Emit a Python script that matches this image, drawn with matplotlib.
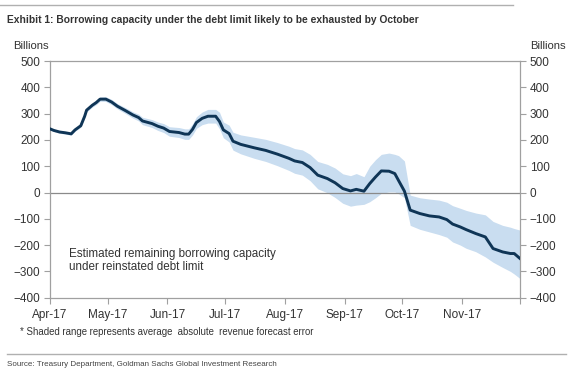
import matplotlib
matplotlib.use("Agg")
import matplotlib.pyplot as plt
import numpy as np
import pandas as pd

# ---- data ----
day_offsets = [0, 2, 5, 8, 11, 13, 16, 18, 19, 22, 24, 26, 29, 32, 35, 39, 43, 46, 48,
               53, 56, 59, 62, 67, 70, 72, 74, 76, 79, 82, 86, 88, 90, 93, 95, 99, 106,
               112, 118, 124, 127, 131, 135, 139, 144, 148, 152, 156, 159, 163, 166, 169,
               172, 176, 179, 181, 184, 187, 192, 197, 202, 206, 209, 213, 216, 221, 226,
               230, 235, 239, 241, 244]
capacity = [242, 236, 230, 227, 223, 238, 254, 290, 313, 332, 342, 355, 355, 344, 328, 312,
            295, 285, 272, 262, 252, 245, 232, 228, 222, 222, 240, 266, 282, 290, 290, 270,
            238, 224, 195, 183, 170, 160, 146, 130, 120, 114, 95, 66, 53, 37, 15, 6, 12, 5,
            34, 59, 82, 81, 72, 45, 5, -67, -80, -89, -93, -103, -120, -131, -141, -156,
            -169, -213, -226, -232, -232, -251]
band_upper = [246, 240, 235, 232, 228, 243, 260, 296, 320, 339, 350, 363, 364, 354, 338, 323,
              307, 298, 286, 277, 268, 262, 250, 247, 242, 242, 261, 288, 306, 316, 316, 305,
              268, 256, 229, 219, 210, 202, 190, 176, 167, 162, 145, 118, 107, 93, 71, 64, 72, 60,
              100, 125, 145, 150, 145, 140, 120, -10, -20, -25, -29, -37, -50, -60, -68, -78,
              -85, -110, -125, -132, -137, -143]
band_lower = [238, 232, 225, 222, 218, 233, 248, 284, 306, 325, 334, 347, 346, 334, 318, 301,
              283, 272, 258, 247, 236, 228, 214, 209, 202, 202, 219, 244, 258, 264, 264, 242,
              208, 192, 161, 147, 130, 118, 102, 84, 73, 66, 45, 14, -1, -19, -41, -52, -48, -45,
              -35, -20, -3, 2, 2, -5, -20, -125, -140, -150, -160, -170, -188, -200, -212, -225,
              -245, -265, -285, -300, -310, -327]
start_date = "2017-04-01"
month_ticks = ["2017-04-01", "2017-05-01", "2017-06-01", "2017-07-01", "2017-08-01",
               "2017-09-01", "2017-10-01", "2017-11-01", "2017-12-01"]
month_labels = ["Apr-17", "May-17", "Jun-17", "Jul-17", "Aug-17", "Sep-17", "Oct-17",
                "Nov-17", ""]
y_ticks = [500, 400, 300, 200, 100, 0, -100, -200, -300, -400]

dates = pd.Timestamp(start_date) + pd.to_timedelta(day_offsets, unit="D")

plt.rcParams['font.family'] = ['Liberation Sans', 'DejaVu Sans']
txt = "#333333"
spine_c = "#a0a0a0"

fig = plt.figure(figsize=(5.71, 3.75), dpi=100)
ax = fig.add_axes([50/571, 1-297.7/375, 470/571, (297.7-61)/375])

ax.fill_between(dates, band_lower, band_upper, color="#c9ddf0", lw=0)
ax.axhline(0, color="#8a8a8a", lw=0.9, zorder=2)
ax.plot(dates, capacity, color="#0f3556", lw=2.1, zorder=3, solid_joinstyle="round")

ax.set_xlim(pd.Timestamp(month_ticks[0]), pd.Timestamp(month_ticks[-1]))
ax.set_ylim(-400, 500)
ax.set_yticks(y_ticks)
ax.set_xticks(pd.to_datetime(month_ticks))
ax.set_xticklabels(month_labels)
ax.tick_params(axis="both", colors=spine_c, labelcolor=txt, labelsize=8.5, length=4, width=0.8,
               direction="out")
ax.tick_params(axis="y", left=True, right=True, labelleft=True, labelright=True, pad=3)
ax.tick_params(axis="x", pad=4)
for s in ax.spines.values():
    s.set_color(spine_c)
    s.set_linewidth(0.9)

fig.text(13/571, 1-46/375, "Billions", fontsize=8.1, color=txt, va="center", ha="left")
fig.text(566/571, 1-46/375, "Billions", fontsize=8.1, color=txt, va="center", ha="right")

ax.text(pd.Timestamp("2017-04-11"), -258, "Estimated remaining borrowing capacity\nunder reinstated debt limit",
        fontsize=8.4, color=txt, va="center", ha="left", linespacing=1.1)

# title and frame lines
fig.add_artist(plt.Line2D([0, 513/571], [1-5/375, 1-5/375], color="#b0b0b0", lw=1.0))
fig.text(7/571, 1-20/375, "Exhibit 1: Borrowing capacity under the debt limit likely to be exhausted by October",
         fontsize=7.35, fontweight="bold", color=txt, va="center", ha="left")
fig.text(20/571, 1-332/375, "* Shaded range represents average  absolute  revenue forecast error",
         fontsize=6.9, color=txt, va="center", ha="left")
fig.add_artist(plt.Line2D([7/571, 566/571], [1-353.5/375, 1-353.5/375], color="#b0b0b0", lw=1.0))
fig.text(7/571, 1-365/375, "Source: Treasury Department, Goldman Sachs Global Investment Research",
         fontsize=5.75, color="#444444", va="center", ha="left")

fig.savefig("out.png", dpi=100)
